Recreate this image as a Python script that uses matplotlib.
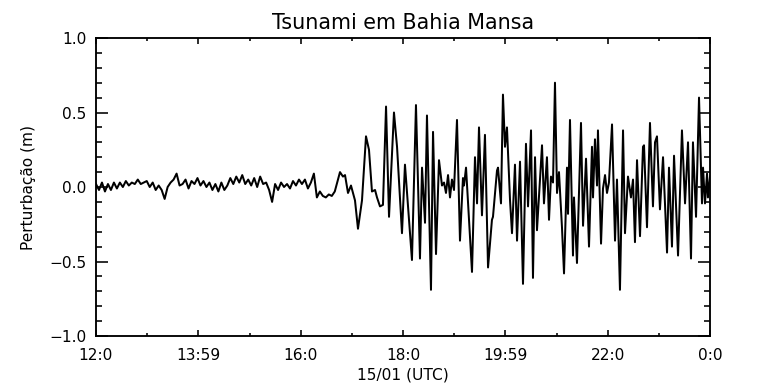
import numpy as np
import matplotlib
matplotlib.use("Agg")
import matplotlib.pyplot as plt
from matplotlib.ticker import MultipleLocator, FixedLocator

# quiet part before the tsunami arrives: one reading every 3.5 min from 12:00
quiet_step = 3.5
quiet_vals = [
    0.02, -0.02, 0.03, -0.03, 0.02, -0.02, 0.03, -0.01,
    0.03, 0.00, 0.04, 0.01, 0.03, 0.02, 0.05, 0.02, 0.03,
    0.04, 0.00, 0.03, -0.02, 0.01,
    -0.02, -0.08, 0.00,
    0.03, 0.05, 0.09, 0.01,
    0.02, 0.05, -0.01, 0.04, 0.02, 0.06, 0.01, 0.04,
    0.00, 0.03, -0.02, 0.02, -0.03, 0.03, -0.02, 0.01,
    0.06, 0.02, 0.07, 0.03, 0.08, 0.02, 0.05,
    0.01, 0.06, 0.00, 0.07, 0.02, 0.03, -0.02,
    -0.10,
    0.02, -0.02, 0.03, 0.00, 0.02, -0.01, 0.04, 0.01, 0.05,
    0.02, 0.05, -0.01, 0.03, 0.09, -0.07, -0.03, -0.06, -0.07, -0.05, -0.06, -0.03,
]

# tsunami part: minutes after 12:00 UTC and perturbation (m)
wave_min = [
    286.1, 289.6, 292.0, 295.5, 299.0, 303.7, 307.2, 311.9, 316.6, 320.1,
    323.6, 327.2, 329.5, 333.0, 336.5, 340.1, 343.6, 349.4, 353.0, 358.8,
    362.3, 370.5, 375.2, 379.9, 382.3, 385.8, 388.1, 392.8, 395.2, 398.7,
    402.2, 405.7, 408.1, 410.4, 412.8, 415.1, 417.4, 419.8, 423.3, 426.8,
    430.3, 431.5, 433.9, 440.9, 444.4, 446.8, 449.1, 452.6, 456.1, 459.7,
    464.3, 465.5, 470.2, 471.4, 474.9, 477.2, 479.6, 481.9, 485.5, 487.8,
    491.3, 493.7, 497.2, 500.7, 504.2, 506.6, 510.1, 512.4, 514.8, 517.1,
    523.0, 525.3, 528.8, 531.2, 533.5, 535.9, 538.2, 540.6, 542.9, 546.4,
    548.8, 552.3, 553.5, 555.8, 559.3, 560.5, 564.0, 568.7, 571.1, 574.6,
    578.1, 581.6, 582.8, 585.1, 587.5, 588.6, 592.2, 594.5, 596.9, 599.2,
    601.5, 605.1, 608.6, 610.9, 614.4, 618.0, 620.3, 623.8, 627.3, 629.7,
    632.0, 634.4, 637.9, 641.4, 642.6, 646.1, 649.6, 653.1, 655.5, 657.8,
    661.3, 664.9, 669.6, 671.9, 675.4, 677.8, 682.5, 687.1, 690.7, 694.2,
    697.7, 700.0, 703.6, 707.1, 710.6, 711.8, 714.1, 716.5, 717.6, 720.0,
]
wave_vals = [
    0.10, 0.07, 0.08, -0.04, 0.01, -0.09, -0.28, -0.09, 0.34, 0.25,
    -0.03, -0.02, -0.07, -0.13, -0.12, 0.54, -0.20, 0.50, 0.27, -0.31,
    0.15, -0.49, 0.55, -0.48, 0.13, -0.24, 0.48, -0.69, 0.37, -0.45,
    0.18, 0.01, 0.03, -0.04, 0.08, -0.07, 0.05, -0.02, 0.45, -0.36,
    0.06, 0.01, 0.13, -0.57, 0.20, -0.11, 0.40, -0.19, 0.35, -0.54,
    -0.22, -0.20, 0.11, 0.13, -0.11, 0.62, 0.27, 0.40, -0.09, -0.31,
    0.15, -0.36, 0.17, -0.65, 0.29, -0.13, 0.38, -0.61, 0.20, -0.29,
    0.28, -0.11, 0.20, -0.22, 0.07, 0.03, 0.70, -0.04, 0.10, -0.27,
    -0.58, 0.13, -0.18, 0.45, -0.46, -0.07, -0.51, 0.43, -0.26, 0.19,
    -0.40, 0.27, -0.07, 0.32, 0.01, 0.38, -0.38, -0.01, 0.08, -0.04,
    0.03, 0.42, -0.36, 0.05, -0.69, 0.38, -0.31, 0.07, -0.07, 0.05,
    -0.37, 0.18, -0.33, 0.27, 0.28, -0.27, 0.43, -0.13, 0.30, 0.34,
    -0.15, 0.20, -0.44, 0.13, -0.40, 0.21, -0.46, 0.38, -0.11, 0.30,
    -0.48, 0.30, -0.20, 0.60, -0.11, 0.13, -0.11, 0.09, -0.07, 0.07,
]

xtick_min = [0, 120, 240, 360, 480, 600, 720]
xtick_labels = ["12:0", "13:59", "16:0", "18:0", "19:59", "22:0", "0:0"]

quiet_min = np.arange(len(quiet_vals)) * quiet_step
t = np.concatenate([quiet_min, wave_min])
y = np.concatenate([quiet_vals, wave_vals])

fig = plt.figure(figsize=(8, 4), dpi=96)
ax = fig.add_axes([0.125, 0.125, 0.7995, 0.776])
ax.plot(t, y, color="black", lw=1.5, solid_joinstyle="round")

ax.set_xlim(0, 720)
ax.set_ylim(-1.0, 1.0)
ax.xaxis.set_major_locator(FixedLocator(xtick_min))
ax.xaxis.set_minor_locator(MultipleLocator(60))
ax.set_xticklabels(xtick_labels)
ax.yaxis.set_major_locator(MultipleLocator(0.5))
ax.yaxis.set_minor_locator(MultipleLocator(0.1))

ax.tick_params(axis="both", which="both", direction="in", top=True, right=True,
               width=1.2, labelsize=11.5, pad=7)
ax.tick_params(axis="y", which="major", length=9)
ax.tick_params(axis="y", which="minor", length=4.5)
ax.tick_params(axis="x", which="major", length=4.5, pad=9)
ax.tick_params(axis="x", which="minor", length=2.2)
for s in ax.spines.values():
    s.set_linewidth(1.4)

ax.set_title("Tsunami em Bahia Mansa", fontsize=15.5, pad=7)
ax.set_xlabel("15/01 (UTC)", fontsize=11.5, labelpad=3)
ax.set_ylabel("Perturbação (m)", fontsize=11.5, labelpad=10)

fig.savefig("out.png", dpi=96)
